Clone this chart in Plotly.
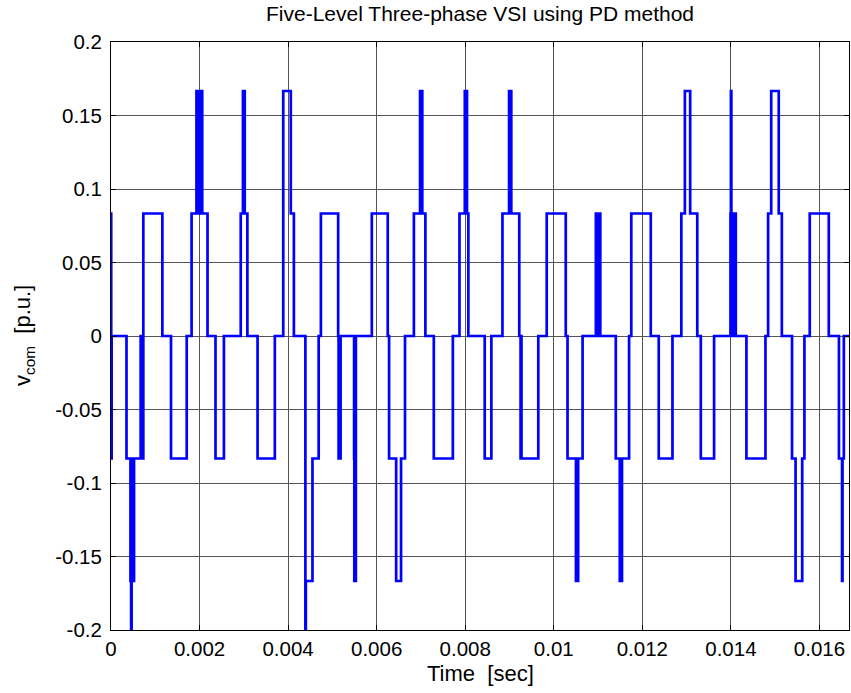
import plotly.graph_objects as go

# Breakpoints of the step waveform (time in ms) and the level that starts there
# level is in steps of 1/12 p.u.
t_ms = [0.00, 0.005, 0.015, 0.35,
        0.44, 0.455, 0.465, 0.48, 0.49, 0.50, 0.51, 0.52,
        0.67, 0.685, 0.70, 0.715, 0.73,
        1.16, 1.355, 1.71, 1.82,
        1.93, 1.95, 1.97, 1.99, 2.01, 2.03, 2.05, 2.06,
        2.18, 2.36, 2.55, 2.93,
        2.98, 3.02,
        3.08, 3.31, 3.70, 3.89, 4.06, 4.13,
        4.39, 4.40, 4.55, 4.69, 4.74,
        5.13, 5.14, 5.155, 5.17, 5.185,
        5.49, 5.495, 5.53,
        5.89, 6.25, 6.28, 6.44, 6.55, 6.64, 6.84,
        6.98, 7.00, 7.01, 7.03,
        7.10, 7.29, 7.72, 7.87,
        7.99, 8.01, 8.02, 8.04,
        8.07, 8.44, 8.59, 8.84,
        8.99, 9.01, 9.02, 9.04,
        9.22, 9.25, 9.26, 9.27,
        9.65, 9.84, 10.27, 10.31,
        10.50, 10.52, 10.53, 10.55,
        10.65,
        10.95, 10.97, 10.99, 11.01, 11.03, 11.05,
        11.40,
        11.49, 11.51, 11.52, 11.54,
        11.70, 11.75, 12.19, 12.37, 12.68, 12.88, 12.96, 13.08, 13.24, 13.32, 13.62,
        13.99, 14.00, 14.01, 14.03, 14.05, 14.07, 14.09, 14.11,
        14.35, 14.78, 14.84, 14.91, 15.08, 15.15, 15.38, 15.46, 15.61, 15.66, 15.78,
        16.21, 16.44, 16.51, 16.52, 16.55, 16.667]
level = [1, -1, 0, -1,
         -2, -3, -2, -1, -2, -1, -2, -1,
         0, -1, 0, -1, 1,
         0, -1, 0, 1,
         2, 1, 2, 1, 2, 1, 2, 1,
         0, -1, 0, 1,
         2, 1,
         0, -1, 0, 2, 1, 0,
         -3, -2, -1, 0, 1,
         0, -1, 0, -1, 0,
         -1, -2, 0,
         1, 0, -1, -2, -1, 0, 1,
         2, 1, 2, 1,
         0, -1, 0, 1,
         2, 1, 2, 1,
         0, -1, 0, 1,
         2, 1, 2, 1,
         0, -1, 0, -1,
         0, 1, 0, -1,
         -2, -1, -2, -1,
         0,
         1, 0, 1, 0, 1, 0,
         -1,
         -2, -1, -2, -1,
         0, 1, 0, -1, 0, 1, 2, 1, 0, -1, 0,
         1, 2, 1, 0, 1, 0, 1, 0,
         -1, 0, 1, 2, 1, 0, -1, -2, -1, 0, 1,
         0, -1, -2, -1, 0, 0]
STEP_PU = 1.0 / 12.0

x_ticks = [0, 0.002, 0.004, 0.006, 0.008, 0.01, 0.012, 0.014, 0.016]
x_ticktext = ["0", "0.002", "0.004", "0.006", "0.008", "0.01", "0.012", "0.014", "0.016"]
y_ticks = [-0.2, -0.15, -0.1, -0.05, 0, 0.05, 0.1, 0.15, 0.2]
y_ticktext = ["-0.2", "-0.15", "-0.1", "-0.05", "0", "0.05", "0.1", "0.15", "0.2"]

x = [t / 1000.0 for t in t_ms]
y = [lv * STEP_PU for lv in level]

FONT = "Liberation Sans"

fig = go.Figure()
fig.add_trace(go.Scatter(x=x, y=y, mode="lines", line_shape="hv",
                         line=dict(color="rgb(0,0,255)", width=2.7),
                         showlegend=False, hoverinfo="skip"))

axis_common = dict(showline=True, linecolor="black", linewidth=1, mirror="ticks",
                   ticks="inside", ticklen=5, tickcolor="black",
                   showgrid=True, gridcolor="rgb(85,85,85)", gridwidth=1,
                   zeroline=False, tickfont=dict(family=FONT, size=20.5, color="black"))

fig.update_xaxes(range=[0, 1/60], tickvals=x_ticks, ticktext=x_ticktext, **axis_common)
fig.update_yaxes(range=[-0.2, 0.2], tickvals=y_ticks, ticktext=y_ticktext,
                 ticklabelstandoff=4, **axis_common)

fig.update_layout(
    width=851, height=693,
    margin=dict(l=111, r=2, t=42, b=63),
    paper_bgcolor="white", plot_bgcolor="white",
    title=dict(text="Five-Level Three-phase VSI using PD method",
               font=dict(family=FONT, size=21, color="black"),
               x=0.5, xref="paper", xanchor="center",
               y=1 - 14 / 693, yref="container", yanchor="middle"),
    annotations=[
        dict(text="Time  [sec]", xref="paper", yref="paper", x=0.5, y=-(673 - 630) / 588,
             xanchor="center", yanchor="middle", showarrow=False,
             font=dict(family=FONT, size=22, color="black")),
        dict(text="v<sub>com</sub>  [p.u.]", xref="paper", yref="paper",
             x=-(111 - 24) / 738, y=0.5, textangle=-90,
             xanchor="center", yanchor="middle", showarrow=False,
             font=dict(family=FONT, size=22, color="black")),
    ],
)

fig.write_html("out.html")
